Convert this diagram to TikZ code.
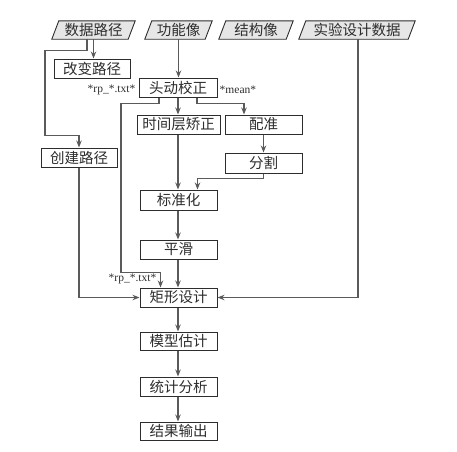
\documentclass[tikz,border=0pt]{standalone}
\usepackage{fontspec}
\setmainfont{Liberation Serif}
\newfontfamily\cjk{Noto Sans CJK SC}
\usetikzlibrary{arrows.meta,backgrounds,calc}
\definecolor{linec}{RGB}{90,90,90}
\definecolor{boxc}{RGB}{45,45,45}
\definecolor{parfill}{RGB}{230,230,230}
\begin{document}
\begin{tikzpicture}[x=1pt,y=-1pt,
  bx/.style={draw=boxc,line width=1pt,fill=white,inner sep=0pt,minimum height=19pt,
    font=\cjk\fontsize{14.5}{16}\selectfont,text=boxc},
  par/.style={inner sep=0pt,minimum height=18pt,font=\cjk\fontsize{14.5}{16}\selectfont,text=boxc},
  arr/.style={draw=linec,line width=1.2pt,-{Stealth[length=7pt,width=5.5pt]}},
  lbl/.style={inner sep=0pt,font=\fontsize{11.5}{12}\selectfont,text=boxc}]
\useasboundingbox (0,0) rectangle (457,451);
% input parallelograms
\node[par,minimum width=83pt] (p1) at (93.5,30) {数据路径};
\node[par,minimum width=67pt] (p2) at (178.5,30) {功能像};
\node[par,minimum width=74pt] (p3) at (256,30) {结构像};
\node[par,minimum width=116pt] (p4) at (357,30) {实验设计数据};
\begin{scope}[on background layer]
\foreach \p in {p1,p2,p3,p4}{
  \draw[draw=boxc,line width=0.9pt,fill=parfill]
    (\p.south west) -- ([xshift=7pt]\p.north west) -- (\p.north east)
    -- ([xshift=-7pt]\p.south east) -- cycle;
}
\end{scope}
% process boxes
\node[bx,minimum width=76pt] (gb) at (92,68.5) {改变路径};
\node[bx,minimum width=76pt] (cj) at (79,157.5) {创建路径};
\node[bx,minimum width=78pt] (tc) at (178,87.5) {头动校正};
\node[bx,minimum width=83pt] (sj) at (178.5,124.5) {时间层矫正};
\node[bx,minimum width=77pt] (pz) at (263.5,124.5) {配准};
\node[bx,minimum width=77pt,minimum height=20pt] (fg) at (263.5,163) {分割};
\node[bx,minimum width=77pt,minimum height=20pt] (bz) at (178.5,200) {标准化};
\node[bx,minimum width=77pt] (ph) at (178.5,249.5) {平滑};
\node[bx,minimum width=77pt] (jx) at (178.5,297.5) {矩形设计};
\node[bx,minimum width=77pt,minimum height=18pt] (mx) at (178.5,341) {模型估计};
\node[bx,minimum width=77pt] (tj) at (178.5,386.5) {统计分析};
\node[bx,minimum width=77pt,minimum height=18pt] (jg) at (178.5,431) {结果输出};
% labels
\node[lbl,anchor=east] (l1) at ([xshift=-3pt,yshift=-2pt]tc.west) {*rp\_*.txt*};
\node[lbl,anchor=west] (l2) at ([xshift=2pt,yshift=-2.5pt]tc.east) {*mean*};
\node[lbl,anchor=east] (l3) at ([xshift=-22pt,yshift=9pt]jx.north) {*rp\_*.txt*};
% connectors
\draw[arr] (p1.south) -- (p1.south |- gb.north);
\draw[arr] ([xshift=-6.5pt]p1.south) -- ++(0,11) -- ++(-42,0) -- ++(0,85) -| (cj.north);
\draw[arr] (cj.south) |- (jx.west);
\draw[arr] (p2.south) -- (p2.south |- tc.north);
\draw[arr] ([xshift=-19pt]tc.south) -- ++(0,6) -- ++(-38,0) |- ([xshift=-18pt,yshift=15pt]jx.north) -- ([xshift=-18pt]jx.north);
\draw[arr] (tc.south) -- (tc.south |- sj.north);
\draw[arr] ([xshift=19pt]tc.south) -- ++(0,6) -| ([xshift=-19.5pt]pz.north);
\draw[arr] (pz.south) -- (fg.north);
\draw[arr] (fg.south) -- ++(0,5) -| ([xshift=19pt]bz.north);
\draw[arr] (sj.south -| tc.south) -- (tc.south |- bz.north);
\draw[arr] (bz.south -| tc.south) -- (tc.south |- ph.north);
\draw[arr] (ph.south -| tc.south) -- (tc.south |- jx.north);
\draw[arr] (jx.south -| tc.south) -- (tc.south |- mx.north);
\draw[arr] (mx.south -| tc.south) -- (tc.south |- tj.north);
\draw[arr] (tj.south -| tc.south) -- (tc.south |- jg.north);
\draw[arr] ([xshift=1pt]p4.south) |- (jx.east);
\end{tikzpicture}
\end{document}
